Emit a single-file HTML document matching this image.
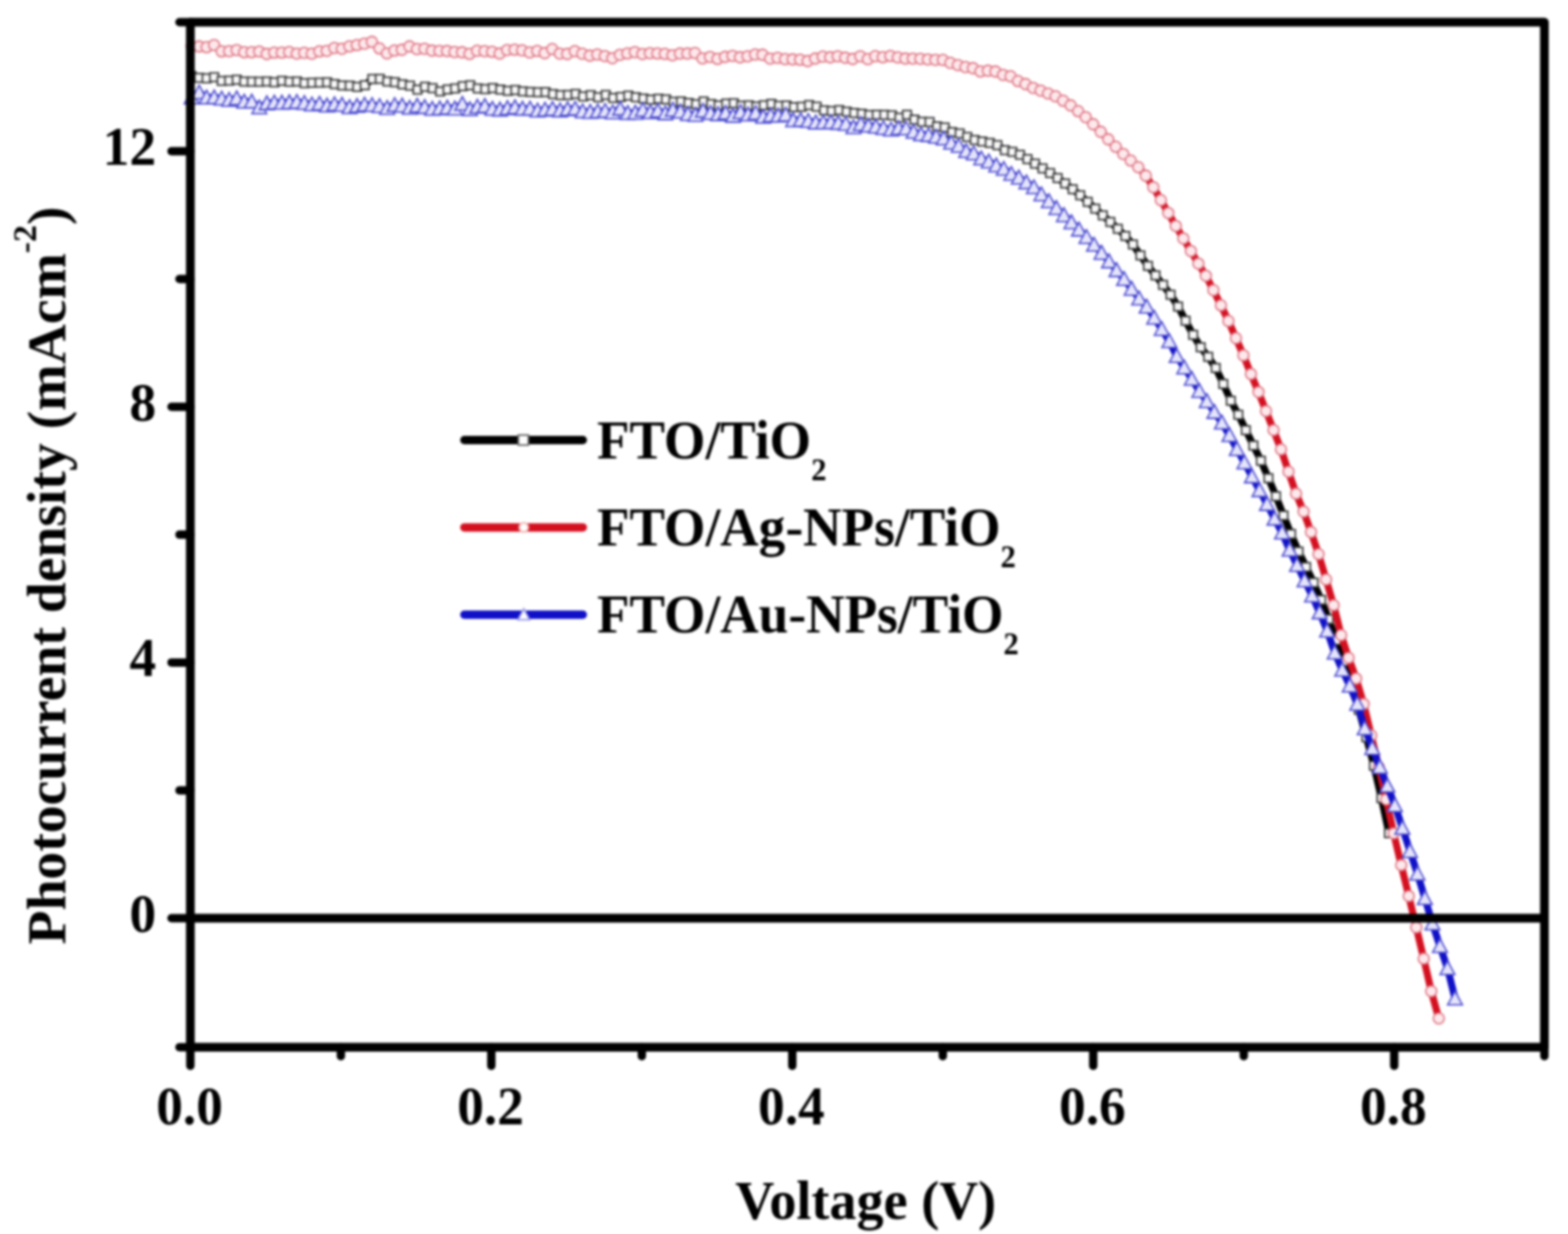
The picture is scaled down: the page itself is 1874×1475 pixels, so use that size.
<!DOCTYPE html>
<html><head><meta charset="utf-8"><title>Photocurrent density vs Voltage</title><style>html,body{margin:0;padding:0;background:#fff;overflow:hidden;}svg{display:block;}</style></head><body>
<svg width="1874" height="1475" viewBox="0 0 1874 1475" style="filter:blur(1.6px)">
<rect width="1874" height="1475" fill="#fff"/>
<path d="M229,90.9 L238,93 L247,93.6 L256,92.3 L265,96.7 L274,96.4 L283,95.3 L292,97.5 L301,97.6 L310,97.7 L319,97.4 L328,98.4 L337,96.6 L346,97.7 L355,97.4 L364,99.4 L373,98.9 L382,98.7 L391,98.4 L400,100.5 L409,102.2 L418,102.4 L427,103.8 L436,101.8 L445,94.4 L454,94.3 L463,97.4 L472,98.3 L481,100.8 L490,102.4 L499,107.2 L508,103.7 L517,105.4 L526,109.3 L535,106.9 L544,105.7 L553,103 L562,101.9 L571,105.7 L580,106.5 L589,105.3 L598,107.1 L607,108.6 L616,107.6 L625,109.3 L634,109.9 L643,110.3 L652,110.1 L661,112.5 L670,113.7 L679,113.5 L688,112.3 L697,115.3 L706,113.7 L715,116.3 L724,113.5 L733,117.1 L742,115.9 L751,114.3 L760,116.3 L769,117.8 L778,119.1 L787,118 L796,118.8 L805,121.7 L814,121.3 L823,123.1 L832,124.6 L841,121.3 L850,124.4 L859,126 L868,123.8 L877,123.4 L886,126.3 L895,125.9 L904,127.3 L913,125.8 L922,124.2 L931,126.5 L940,126.1 L949,128.1 L958,127.6 L967,125.6 L976,127.5 L985,131.9 L994,132.7 L1003,131.6 L1012,133.5 L1021,135.1 L1030,136 L1039,137.5 L1048,137.2 L1057,137.3 L1066,137.8 L1075,140.7 L1084,137.2 L1093,143 L1102,145.6 L1111,145.8 L1120,151.1 L1129,152.4 L1138,157.9 L1147,159.5 L1156,163.7 L1165,167.4 L1174,169.2 L1183,170.8 L1192,173.5 L1201,179.5 L1210,181.5 L1219,185 L1228,190.2 L1237,195.6 L1246,201.3 L1255,206.8 L1264,212.8 L1273,219.3 L1282,226.2 L1291,233.4 L1300,241.3 L1309,249.4 L1318,257.4 L1327,265.3 L1336,273.5 L1345,282.1 L1354,292.2 L1363,305.3 L1372,317.8 L1381,329.2 L1390,340.5 L1399,352.3 L1408,366.4 L1417,383.4 L1426,400.2 L1435,415.1 L1444,426.5 L1453,439.8 L1462,458.9 L1471,479 L1480,495.7 L1489,514.2 L1498,532.5 L1507,550.7 L1516,571.6 L1525,593.2 L1534,616.2 L1543,638.3 L1552,659.3 L1561,677.7 L1570,696.4 L1579,717.1 L1588,740.1 L1597,765.2 L1606,790.4 L1615,818.6 L1624,848.3 L1633,881.2 L1642,915.2 L1651,954 L1660,995.9" fill="none" stroke="#000000" stroke-width="8.5" stroke-linejoin="round" stroke-linecap="round"/>
<g><rect x="223.9" y="85.8" width="10.2" height="10.2" fill="#f8f8f8" stroke="#383838" stroke-width="1.9"/><rect x="232.9" y="87.9" width="10.2" height="10.2" fill="#f8f8f8" stroke="#383838" stroke-width="1.9"/><rect x="241.9" y="88.5" width="10.2" height="10.2" fill="#f8f8f8" stroke="#383838" stroke-width="1.9"/><rect x="250.9" y="87.2" width="10.2" height="10.2" fill="#f8f8f8" stroke="#383838" stroke-width="1.9"/><rect x="259.9" y="91.6" width="10.2" height="10.2" fill="#f8f8f8" stroke="#383838" stroke-width="1.9"/><rect x="268.9" y="91.3" width="10.2" height="10.2" fill="#f8f8f8" stroke="#383838" stroke-width="1.9"/><rect x="277.9" y="90.2" width="10.2" height="10.2" fill="#f8f8f8" stroke="#383838" stroke-width="1.9"/><rect x="286.9" y="92.4" width="10.2" height="10.2" fill="#f8f8f8" stroke="#383838" stroke-width="1.9"/><rect x="295.9" y="92.5" width="10.2" height="10.2" fill="#f8f8f8" stroke="#383838" stroke-width="1.9"/><rect x="304.9" y="92.6" width="10.2" height="10.2" fill="#f8f8f8" stroke="#383838" stroke-width="1.9"/><rect x="313.9" y="92.3" width="10.2" height="10.2" fill="#f8f8f8" stroke="#383838" stroke-width="1.9"/><rect x="322.9" y="93.3" width="10.2" height="10.2" fill="#f8f8f8" stroke="#383838" stroke-width="1.9"/><rect x="331.9" y="91.5" width="10.2" height="10.2" fill="#f8f8f8" stroke="#383838" stroke-width="1.9"/><rect x="340.9" y="92.6" width="10.2" height="10.2" fill="#f8f8f8" stroke="#383838" stroke-width="1.9"/><rect x="349.9" y="92.3" width="10.2" height="10.2" fill="#f8f8f8" stroke="#383838" stroke-width="1.9"/><rect x="358.9" y="94.3" width="10.2" height="10.2" fill="#f8f8f8" stroke="#383838" stroke-width="1.9"/><rect x="367.9" y="93.8" width="10.2" height="10.2" fill="#f8f8f8" stroke="#383838" stroke-width="1.9"/><rect x="376.9" y="93.6" width="10.2" height="10.2" fill="#f8f8f8" stroke="#383838" stroke-width="1.9"/><rect x="385.9" y="93.3" width="10.2" height="10.2" fill="#f8f8f8" stroke="#383838" stroke-width="1.9"/><rect x="394.9" y="95.4" width="10.2" height="10.2" fill="#f8f8f8" stroke="#383838" stroke-width="1.9"/><rect x="403.9" y="97.1" width="10.2" height="10.2" fill="#f8f8f8" stroke="#383838" stroke-width="1.9"/><rect x="412.9" y="97.3" width="10.2" height="10.2" fill="#f8f8f8" stroke="#383838" stroke-width="1.9"/><rect x="421.9" y="98.7" width="10.2" height="10.2" fill="#f8f8f8" stroke="#383838" stroke-width="1.9"/><rect x="430.9" y="96.7" width="10.2" height="10.2" fill="#f8f8f8" stroke="#383838" stroke-width="1.9"/><rect x="439.9" y="89.3" width="10.2" height="10.2" fill="#f8f8f8" stroke="#383838" stroke-width="1.9"/><rect x="448.9" y="89.2" width="10.2" height="10.2" fill="#f8f8f8" stroke="#383838" stroke-width="1.9"/><rect x="457.9" y="92.3" width="10.2" height="10.2" fill="#f8f8f8" stroke="#383838" stroke-width="1.9"/><rect x="466.9" y="93.2" width="10.2" height="10.2" fill="#f8f8f8" stroke="#383838" stroke-width="1.9"/><rect x="475.9" y="95.7" width="10.2" height="10.2" fill="#f8f8f8" stroke="#383838" stroke-width="1.9"/><rect x="484.9" y="97.3" width="10.2" height="10.2" fill="#f8f8f8" stroke="#383838" stroke-width="1.9"/><rect x="493.9" y="102.1" width="10.2" height="10.2" fill="#f8f8f8" stroke="#383838" stroke-width="1.9"/><rect x="502.9" y="98.6" width="10.2" height="10.2" fill="#f8f8f8" stroke="#383838" stroke-width="1.9"/><rect x="511.9" y="100.3" width="10.2" height="10.2" fill="#f8f8f8" stroke="#383838" stroke-width="1.9"/><rect x="520.9" y="104.2" width="10.2" height="10.2" fill="#f8f8f8" stroke="#383838" stroke-width="1.9"/><rect x="529.9" y="101.8" width="10.2" height="10.2" fill="#f8f8f8" stroke="#383838" stroke-width="1.9"/><rect x="538.9" y="100.6" width="10.2" height="10.2" fill="#f8f8f8" stroke="#383838" stroke-width="1.9"/><rect x="547.9" y="97.9" width="10.2" height="10.2" fill="#f8f8f8" stroke="#383838" stroke-width="1.9"/><rect x="556.9" y="96.8" width="10.2" height="10.2" fill="#f8f8f8" stroke="#383838" stroke-width="1.9"/><rect x="565.9" y="100.6" width="10.2" height="10.2" fill="#f8f8f8" stroke="#383838" stroke-width="1.9"/><rect x="574.9" y="101.4" width="10.2" height="10.2" fill="#f8f8f8" stroke="#383838" stroke-width="1.9"/><rect x="583.9" y="100.2" width="10.2" height="10.2" fill="#f8f8f8" stroke="#383838" stroke-width="1.9"/><rect x="592.9" y="102" width="10.2" height="10.2" fill="#f8f8f8" stroke="#383838" stroke-width="1.9"/><rect x="601.9" y="103.5" width="10.2" height="10.2" fill="#f8f8f8" stroke="#383838" stroke-width="1.9"/><rect x="610.9" y="102.5" width="10.2" height="10.2" fill="#f8f8f8" stroke="#383838" stroke-width="1.9"/><rect x="619.9" y="104.2" width="10.2" height="10.2" fill="#f8f8f8" stroke="#383838" stroke-width="1.9"/><rect x="628.9" y="104.8" width="10.2" height="10.2" fill="#f8f8f8" stroke="#383838" stroke-width="1.9"/><rect x="637.9" y="105.2" width="10.2" height="10.2" fill="#f8f8f8" stroke="#383838" stroke-width="1.9"/><rect x="646.9" y="105" width="10.2" height="10.2" fill="#f8f8f8" stroke="#383838" stroke-width="1.9"/><rect x="655.9" y="107.4" width="10.2" height="10.2" fill="#f8f8f8" stroke="#383838" stroke-width="1.9"/><rect x="664.9" y="108.6" width="10.2" height="10.2" fill="#f8f8f8" stroke="#383838" stroke-width="1.9"/><rect x="673.9" y="108.4" width="10.2" height="10.2" fill="#f8f8f8" stroke="#383838" stroke-width="1.9"/><rect x="682.9" y="107.2" width="10.2" height="10.2" fill="#f8f8f8" stroke="#383838" stroke-width="1.9"/><rect x="691.9" y="110.2" width="10.2" height="10.2" fill="#f8f8f8" stroke="#383838" stroke-width="1.9"/><rect x="700.9" y="108.6" width="10.2" height="10.2" fill="#f8f8f8" stroke="#383838" stroke-width="1.9"/><rect x="709.9" y="111.2" width="10.2" height="10.2" fill="#f8f8f8" stroke="#383838" stroke-width="1.9"/><rect x="718.9" y="108.4" width="10.2" height="10.2" fill="#f8f8f8" stroke="#383838" stroke-width="1.9"/><rect x="727.9" y="112" width="10.2" height="10.2" fill="#f8f8f8" stroke="#383838" stroke-width="1.9"/><rect x="736.9" y="110.8" width="10.2" height="10.2" fill="#f8f8f8" stroke="#383838" stroke-width="1.9"/><rect x="745.9" y="109.2" width="10.2" height="10.2" fill="#f8f8f8" stroke="#383838" stroke-width="1.9"/><rect x="754.9" y="111.2" width="10.2" height="10.2" fill="#f8f8f8" stroke="#383838" stroke-width="1.9"/><rect x="763.9" y="112.7" width="10.2" height="10.2" fill="#f8f8f8" stroke="#383838" stroke-width="1.9"/><rect x="772.9" y="114" width="10.2" height="10.2" fill="#f8f8f8" stroke="#383838" stroke-width="1.9"/><rect x="781.9" y="112.9" width="10.2" height="10.2" fill="#f8f8f8" stroke="#383838" stroke-width="1.9"/><rect x="790.9" y="113.7" width="10.2" height="10.2" fill="#f8f8f8" stroke="#383838" stroke-width="1.9"/><rect x="799.9" y="116.6" width="10.2" height="10.2" fill="#f8f8f8" stroke="#383838" stroke-width="1.9"/><rect x="808.9" y="116.2" width="10.2" height="10.2" fill="#f8f8f8" stroke="#383838" stroke-width="1.9"/><rect x="817.9" y="118" width="10.2" height="10.2" fill="#f8f8f8" stroke="#383838" stroke-width="1.9"/><rect x="826.9" y="119.5" width="10.2" height="10.2" fill="#f8f8f8" stroke="#383838" stroke-width="1.9"/><rect x="835.9" y="116.2" width="10.2" height="10.2" fill="#f8f8f8" stroke="#383838" stroke-width="1.9"/><rect x="844.9" y="119.3" width="10.2" height="10.2" fill="#f8f8f8" stroke="#383838" stroke-width="1.9"/><rect x="853.9" y="120.9" width="10.2" height="10.2" fill="#f8f8f8" stroke="#383838" stroke-width="1.9"/><rect x="862.9" y="118.7" width="10.2" height="10.2" fill="#f8f8f8" stroke="#383838" stroke-width="1.9"/><rect x="871.9" y="118.3" width="10.2" height="10.2" fill="#f8f8f8" stroke="#383838" stroke-width="1.9"/><rect x="880.9" y="121.2" width="10.2" height="10.2" fill="#f8f8f8" stroke="#383838" stroke-width="1.9"/><rect x="889.9" y="120.8" width="10.2" height="10.2" fill="#f8f8f8" stroke="#383838" stroke-width="1.9"/><rect x="898.9" y="122.2" width="10.2" height="10.2" fill="#f8f8f8" stroke="#383838" stroke-width="1.9"/><rect x="907.9" y="120.7" width="10.2" height="10.2" fill="#f8f8f8" stroke="#383838" stroke-width="1.9"/><rect x="916.9" y="119.1" width="10.2" height="10.2" fill="#f8f8f8" stroke="#383838" stroke-width="1.9"/><rect x="925.9" y="121.4" width="10.2" height="10.2" fill="#f8f8f8" stroke="#383838" stroke-width="1.9"/><rect x="934.9" y="121" width="10.2" height="10.2" fill="#f8f8f8" stroke="#383838" stroke-width="1.9"/><rect x="943.9" y="123" width="10.2" height="10.2" fill="#f8f8f8" stroke="#383838" stroke-width="1.9"/><rect x="952.9" y="122.5" width="10.2" height="10.2" fill="#f8f8f8" stroke="#383838" stroke-width="1.9"/><rect x="961.9" y="120.5" width="10.2" height="10.2" fill="#f8f8f8" stroke="#383838" stroke-width="1.9"/><rect x="970.9" y="122.4" width="10.2" height="10.2" fill="#f8f8f8" stroke="#383838" stroke-width="1.9"/><rect x="979.9" y="126.8" width="10.2" height="10.2" fill="#f8f8f8" stroke="#383838" stroke-width="1.9"/><rect x="988.9" y="127.6" width="10.2" height="10.2" fill="#f8f8f8" stroke="#383838" stroke-width="1.9"/><rect x="997.9" y="126.5" width="10.2" height="10.2" fill="#f8f8f8" stroke="#383838" stroke-width="1.9"/><rect x="1006.9" y="128.4" width="10.2" height="10.2" fill="#f8f8f8" stroke="#383838" stroke-width="1.9"/><rect x="1015.9" y="130" width="10.2" height="10.2" fill="#f8f8f8" stroke="#383838" stroke-width="1.9"/><rect x="1024.9" y="130.9" width="10.2" height="10.2" fill="#f8f8f8" stroke="#383838" stroke-width="1.9"/><rect x="1033.9" y="132.4" width="10.2" height="10.2" fill="#f8f8f8" stroke="#383838" stroke-width="1.9"/><rect x="1042.9" y="132.1" width="10.2" height="10.2" fill="#f8f8f8" stroke="#383838" stroke-width="1.9"/><rect x="1051.9" y="132.2" width="10.2" height="10.2" fill="#f8f8f8" stroke="#383838" stroke-width="1.9"/><rect x="1060.9" y="132.7" width="10.2" height="10.2" fill="#f8f8f8" stroke="#383838" stroke-width="1.9"/><rect x="1069.9" y="135.6" width="10.2" height="10.2" fill="#f8f8f8" stroke="#383838" stroke-width="1.9"/><rect x="1078.9" y="132.1" width="10.2" height="10.2" fill="#f8f8f8" stroke="#383838" stroke-width="1.9"/><rect x="1087.9" y="137.9" width="10.2" height="10.2" fill="#f8f8f8" stroke="#383838" stroke-width="1.9"/><rect x="1096.9" y="140.5" width="10.2" height="10.2" fill="#f8f8f8" stroke="#383838" stroke-width="1.9"/><rect x="1105.9" y="140.7" width="10.2" height="10.2" fill="#f8f8f8" stroke="#383838" stroke-width="1.9"/><rect x="1114.9" y="146" width="10.2" height="10.2" fill="#f8f8f8" stroke="#383838" stroke-width="1.9"/><rect x="1123.9" y="147.3" width="10.2" height="10.2" fill="#f8f8f8" stroke="#383838" stroke-width="1.9"/><rect x="1132.9" y="152.8" width="10.2" height="10.2" fill="#f8f8f8" stroke="#383838" stroke-width="1.9"/><rect x="1141.9" y="154.4" width="10.2" height="10.2" fill="#f8f8f8" stroke="#383838" stroke-width="1.9"/><rect x="1150.9" y="158.6" width="10.2" height="10.2" fill="#f8f8f8" stroke="#383838" stroke-width="1.9"/><rect x="1159.9" y="162.3" width="10.2" height="10.2" fill="#f8f8f8" stroke="#383838" stroke-width="1.9"/><rect x="1168.9" y="164.1" width="10.2" height="10.2" fill="#f8f8f8" stroke="#383838" stroke-width="1.9"/><rect x="1177.9" y="165.7" width="10.2" height="10.2" fill="#f8f8f8" stroke="#383838" stroke-width="1.9"/><rect x="1186.9" y="168.4" width="10.2" height="10.2" fill="#f8f8f8" stroke="#383838" stroke-width="1.9"/><rect x="1195.9" y="174.4" width="10.2" height="10.2" fill="#f8f8f8" stroke="#383838" stroke-width="1.9"/><rect x="1204.9" y="176.4" width="10.2" height="10.2" fill="#f8f8f8" stroke="#383838" stroke-width="1.9"/><rect x="1213.9" y="179.9" width="10.2" height="10.2" fill="#f8f8f8" stroke="#383838" stroke-width="1.9"/><rect x="1222.9" y="185.1" width="10.2" height="10.2" fill="#f8f8f8" stroke="#383838" stroke-width="1.9"/><rect x="1231.9" y="190.5" width="10.2" height="10.2" fill="#f8f8f8" stroke="#383838" stroke-width="1.9"/><rect x="1240.9" y="196.2" width="10.2" height="10.2" fill="#f8f8f8" stroke="#383838" stroke-width="1.9"/><rect x="1249.9" y="201.7" width="10.2" height="10.2" fill="#f8f8f8" stroke="#383838" stroke-width="1.9"/><rect x="1258.9" y="207.7" width="10.2" height="10.2" fill="#f8f8f8" stroke="#383838" stroke-width="1.9"/><rect x="1267.9" y="214.2" width="10.2" height="10.2" fill="#f8f8f8" stroke="#383838" stroke-width="1.9"/><rect x="1276.9" y="221.1" width="10.2" height="10.2" fill="#f8f8f8" stroke="#383838" stroke-width="1.9"/><rect x="1285.9" y="228.3" width="10.2" height="10.2" fill="#f8f8f8" stroke="#383838" stroke-width="1.9"/><rect x="1294.9" y="236.2" width="10.2" height="10.2" fill="#f8f8f8" stroke="#383838" stroke-width="1.9"/><rect x="1303.9" y="244.3" width="10.2" height="10.2" fill="#f8f8f8" stroke="#383838" stroke-width="1.9"/><rect x="1312.9" y="252.3" width="10.2" height="10.2" fill="#f8f8f8" stroke="#383838" stroke-width="1.9"/><rect x="1321.9" y="260.2" width="10.2" height="10.2" fill="#f8f8f8" stroke="#383838" stroke-width="1.9"/><rect x="1330.9" y="268.4" width="10.2" height="10.2" fill="#f8f8f8" stroke="#383838" stroke-width="1.9"/><rect x="1339.9" y="277" width="10.2" height="10.2" fill="#f8f8f8" stroke="#383838" stroke-width="1.9"/><rect x="1348.9" y="287.1" width="10.2" height="10.2" fill="#f8f8f8" stroke="#383838" stroke-width="1.9"/><rect x="1357.9" y="300.2" width="10.2" height="10.2" fill="#f8f8f8" stroke="#383838" stroke-width="1.9"/><rect x="1366.9" y="312.7" width="10.2" height="10.2" fill="#f8f8f8" stroke="#383838" stroke-width="1.9"/><rect x="1375.9" y="324.1" width="10.2" height="10.2" fill="#f8f8f8" stroke="#383838" stroke-width="1.9"/><rect x="1384.9" y="335.4" width="10.2" height="10.2" fill="#f8f8f8" stroke="#383838" stroke-width="1.9"/><rect x="1393.9" y="347.2" width="10.2" height="10.2" fill="#f8f8f8" stroke="#383838" stroke-width="1.9"/><rect x="1402.9" y="361.3" width="10.2" height="10.2" fill="#f8f8f8" stroke="#383838" stroke-width="1.9"/><rect x="1411.9" y="378.3" width="10.2" height="10.2" fill="#f8f8f8" stroke="#383838" stroke-width="1.9"/><rect x="1420.9" y="395.1" width="10.2" height="10.2" fill="#f8f8f8" stroke="#383838" stroke-width="1.9"/><rect x="1429.9" y="410" width="10.2" height="10.2" fill="#f8f8f8" stroke="#383838" stroke-width="1.9"/><rect x="1438.9" y="421.4" width="10.2" height="10.2" fill="#f8f8f8" stroke="#383838" stroke-width="1.9"/><rect x="1447.9" y="434.7" width="10.2" height="10.2" fill="#f8f8f8" stroke="#383838" stroke-width="1.9"/><rect x="1456.9" y="453.8" width="10.2" height="10.2" fill="#f8f8f8" stroke="#383838" stroke-width="1.9"/><rect x="1465.9" y="473.9" width="10.2" height="10.2" fill="#f8f8f8" stroke="#383838" stroke-width="1.9"/><rect x="1474.9" y="490.6" width="10.2" height="10.2" fill="#f8f8f8" stroke="#383838" stroke-width="1.9"/><rect x="1483.9" y="509.1" width="10.2" height="10.2" fill="#f8f8f8" stroke="#383838" stroke-width="1.9"/><rect x="1492.9" y="527.4" width="10.2" height="10.2" fill="#f8f8f8" stroke="#383838" stroke-width="1.9"/><rect x="1501.9" y="545.6" width="10.2" height="10.2" fill="#f8f8f8" stroke="#383838" stroke-width="1.9"/><rect x="1510.9" y="566.5" width="10.2" height="10.2" fill="#f8f8f8" stroke="#383838" stroke-width="1.9"/><rect x="1519.9" y="588.1" width="10.2" height="10.2" fill="#f8f8f8" stroke="#383838" stroke-width="1.9"/><rect x="1528.9" y="611.1" width="10.2" height="10.2" fill="#f8f8f8" stroke="#383838" stroke-width="1.9"/><rect x="1537.9" y="633.2" width="10.2" height="10.2" fill="#f8f8f8" stroke="#383838" stroke-width="1.9"/><rect x="1546.9" y="654.2" width="10.2" height="10.2" fill="#f8f8f8" stroke="#383838" stroke-width="1.9"/><rect x="1555.9" y="672.6" width="10.2" height="10.2" fill="#f8f8f8" stroke="#383838" stroke-width="1.9"/><rect x="1564.9" y="691.3" width="10.2" height="10.2" fill="#f8f8f8" stroke="#383838" stroke-width="1.9"/><rect x="1573.9" y="712" width="10.2" height="10.2" fill="#f8f8f8" stroke="#383838" stroke-width="1.9"/><rect x="1582.9" y="735" width="10.2" height="10.2" fill="#f8f8f8" stroke="#383838" stroke-width="1.9"/><rect x="1591.9" y="760.1" width="10.2" height="10.2" fill="#f8f8f8" stroke="#383838" stroke-width="1.9"/><rect x="1600.9" y="785.3" width="10.2" height="10.2" fill="#f8f8f8" stroke="#383838" stroke-width="1.9"/><rect x="1609.9" y="813.5" width="10.2" height="10.2" fill="#f8f8f8" stroke="#383838" stroke-width="1.9"/><rect x="1618.9" y="843.2" width="10.2" height="10.2" fill="#f8f8f8" stroke="#383838" stroke-width="1.9"/><rect x="1627.9" y="876.1" width="10.2" height="10.2" fill="#f8f8f8" stroke="#383838" stroke-width="1.9"/><rect x="1636.9" y="910.1" width="10.2" height="10.2" fill="#f8f8f8" stroke="#383838" stroke-width="1.9"/><rect x="1645.9" y="948.9" width="10.2" height="10.2" fill="#f8f8f8" stroke="#383838" stroke-width="1.9"/><rect x="1654.9" y="990.8" width="10.2" height="10.2" fill="#f8f8f8" stroke="#383838" stroke-width="1.9"/></g>
<path d="M229,55.6 L238,55.5 L247,56.4 L255.9,53.8 L264.9,61.4 L273.9,61.2 L282.9,59.8 L291.9,62.4 L300.8,62.4 L309.8,61.6 L318.8,64.5 L327.8,62.9 L336.8,62.9 L345.7,62.2 L354.7,64.1 L363.7,63.2 L372.7,64.2 L381.7,61.4 L390.6,60.8 L399.6,57.3 L408.6,58.3 L417.6,55.4 L426.5,53.9 L435.5,52.2 L444.5,50 L453.5,57.9 L462.5,63.8 L471.4,60.4 L480.4,59.5 L489.4,55.5 L498.4,58.7 L507.4,58.3 L516.3,60.5 L525.3,60.8 L534.3,61 L543.3,62.2 L552.3,62.5 L561.2,64.4 L570.2,60.7 L579.2,61.2 L588.2,61.9 L597.2,64 L606.1,59.8 L615.1,59.4 L624.1,60.2 L633.1,62.7 L642.1,60.9 L651,63.5 L660,58.7 L669,64.1 L678,64.5 L687,61.2 L695.9,64.2 L704.9,66.5 L713.9,65.2 L722.9,67.1 L731.9,69.6 L740.8,65.6 L749.8,63.9 L758.8,62.3 L767.8,64.6 L776.8,63.6 L785.7,63.9 L794.7,64.4 L803.7,66.1 L812.7,64 L821.6,64 L830.6,63.3 L839.6,69.8 L848.6,68.1 L857.6,70.4 L866.5,68 L875.5,66.8 L884.5,68.5 L893.5,67.3 L902.5,65.2 L911.4,65.5 L920.4,70.1 L929.4,69.2 L938.4,70.7 L947.4,71 L956.3,71.4 L965.3,73 L974.3,70 L983.3,67.7 L992.3,68.5 L1001.2,67.3 L1010.2,69 L1019.2,70.5 L1028.2,67.3 L1037.2,70.7 L1046.1,67.2 L1055.1,68.4 L1064.1,66.9 L1073.1,68.7 L1082.1,70 L1091,70.1 L1100,70.3 L1109,71.1 L1118,71.6 L1127,71.7 L1135.9,75.2 L1144.9,77.8 L1153.9,80.2 L1162.9,81.5 L1171.8,85.4 L1180.8,84.5 L1189.8,85.5 L1198.8,89.6 L1207.8,91.2 L1216.7,96.9 L1225.7,100.5 L1234.7,105.1 L1243.7,108.3 L1252.7,111.8 L1261.6,115.2 L1270.6,120.4 L1279.6,126 L1288.6,132.9 L1297.6,140.1 L1306.5,148.5 L1315.5,157.5 L1324.5,166.5 L1333.5,175.4 L1342.5,184.1 L1351.4,191.9 L1360.4,199.8 L1369.4,210 L1378.4,223.8 L1387.4,239.2 L1396.3,254.6 L1405.3,270.1 L1414.3,285.1 L1423.3,300.1 L1432.3,315.1 L1441.2,329.6 L1450.2,346.8 L1459.2,364.9 L1468.2,383.7 L1477.2,404.2 L1486.1,424.7 L1495.1,447.1 L1504.1,468.6 L1513.1,491.3 L1522.1,514.1 L1531,537.2 L1540,563.8 L1549,590 L1558,611.5 L1566.9,636 L1575.9,662.4 L1584.9,692.7 L1593.9,723.4 L1602.9,759.2 L1611.8,786.3 L1620.8,811.1 L1629.8,841.5 L1638.8,879 L1647.8,916.9 L1656.7,955.6 L1665.7,996.1 L1674.7,1034 L1683.7,1071.1 L1692.7,1108.5 L1701.6,1145.9 L1710.6,1184.8 L1719.6,1217.3" fill="none" stroke="#d41020" stroke-width="8.5" stroke-linejoin="round" stroke-linecap="round"/>
<g><circle cx="229" cy="55.6" r="6.5" fill="#fde8eb" stroke="#de7684" stroke-width="1.8"/><circle cx="238" cy="55.5" r="6.5" fill="#fde8eb" stroke="#de7684" stroke-width="1.8"/><circle cx="247" cy="56.4" r="6.5" fill="#fde8eb" stroke="#de7684" stroke-width="1.8"/><circle cx="255.9" cy="53.8" r="6.5" fill="#fde8eb" stroke="#de7684" stroke-width="1.8"/><circle cx="264.9" cy="61.4" r="6.5" fill="#fde8eb" stroke="#de7684" stroke-width="1.8"/><circle cx="273.9" cy="61.2" r="6.5" fill="#fde8eb" stroke="#de7684" stroke-width="1.8"/><circle cx="282.9" cy="59.8" r="6.5" fill="#fde8eb" stroke="#de7684" stroke-width="1.8"/><circle cx="291.9" cy="62.4" r="6.5" fill="#fde8eb" stroke="#de7684" stroke-width="1.8"/><circle cx="300.8" cy="62.4" r="6.5" fill="#fde8eb" stroke="#de7684" stroke-width="1.8"/><circle cx="309.8" cy="61.6" r="6.5" fill="#fde8eb" stroke="#de7684" stroke-width="1.8"/><circle cx="318.8" cy="64.5" r="6.5" fill="#fde8eb" stroke="#de7684" stroke-width="1.8"/><circle cx="327.8" cy="62.9" r="6.5" fill="#fde8eb" stroke="#de7684" stroke-width="1.8"/><circle cx="336.8" cy="62.9" r="6.5" fill="#fde8eb" stroke="#de7684" stroke-width="1.8"/><circle cx="345.7" cy="62.2" r="6.5" fill="#fde8eb" stroke="#de7684" stroke-width="1.8"/><circle cx="354.7" cy="64.1" r="6.5" fill="#fde8eb" stroke="#de7684" stroke-width="1.8"/><circle cx="363.7" cy="63.2" r="6.5" fill="#fde8eb" stroke="#de7684" stroke-width="1.8"/><circle cx="372.7" cy="64.2" r="6.5" fill="#fde8eb" stroke="#de7684" stroke-width="1.8"/><circle cx="381.7" cy="61.4" r="6.5" fill="#fde8eb" stroke="#de7684" stroke-width="1.8"/><circle cx="390.6" cy="60.8" r="6.5" fill="#fde8eb" stroke="#de7684" stroke-width="1.8"/><circle cx="399.6" cy="57.3" r="6.5" fill="#fde8eb" stroke="#de7684" stroke-width="1.8"/><circle cx="408.6" cy="58.3" r="6.5" fill="#fde8eb" stroke="#de7684" stroke-width="1.8"/><circle cx="417.6" cy="55.4" r="6.5" fill="#fde8eb" stroke="#de7684" stroke-width="1.8"/><circle cx="426.5" cy="53.9" r="6.5" fill="#fde8eb" stroke="#de7684" stroke-width="1.8"/><circle cx="435.5" cy="52.2" r="6.5" fill="#fde8eb" stroke="#de7684" stroke-width="1.8"/><circle cx="444.5" cy="50" r="6.5" fill="#fde8eb" stroke="#de7684" stroke-width="1.8"/><circle cx="453.5" cy="57.9" r="6.5" fill="#fde8eb" stroke="#de7684" stroke-width="1.8"/><circle cx="462.5" cy="63.8" r="6.5" fill="#fde8eb" stroke="#de7684" stroke-width="1.8"/><circle cx="471.4" cy="60.4" r="6.5" fill="#fde8eb" stroke="#de7684" stroke-width="1.8"/><circle cx="480.4" cy="59.5" r="6.5" fill="#fde8eb" stroke="#de7684" stroke-width="1.8"/><circle cx="489.4" cy="55.5" r="6.5" fill="#fde8eb" stroke="#de7684" stroke-width="1.8"/><circle cx="498.4" cy="58.7" r="6.5" fill="#fde8eb" stroke="#de7684" stroke-width="1.8"/><circle cx="507.4" cy="58.3" r="6.5" fill="#fde8eb" stroke="#de7684" stroke-width="1.8"/><circle cx="516.3" cy="60.5" r="6.5" fill="#fde8eb" stroke="#de7684" stroke-width="1.8"/><circle cx="525.3" cy="60.8" r="6.5" fill="#fde8eb" stroke="#de7684" stroke-width="1.8"/><circle cx="534.3" cy="61" r="6.5" fill="#fde8eb" stroke="#de7684" stroke-width="1.8"/><circle cx="543.3" cy="62.2" r="6.5" fill="#fde8eb" stroke="#de7684" stroke-width="1.8"/><circle cx="552.3" cy="62.5" r="6.5" fill="#fde8eb" stroke="#de7684" stroke-width="1.8"/><circle cx="561.2" cy="64.4" r="6.5" fill="#fde8eb" stroke="#de7684" stroke-width="1.8"/><circle cx="570.2" cy="60.7" r="6.5" fill="#fde8eb" stroke="#de7684" stroke-width="1.8"/><circle cx="579.2" cy="61.2" r="6.5" fill="#fde8eb" stroke="#de7684" stroke-width="1.8"/><circle cx="588.2" cy="61.9" r="6.5" fill="#fde8eb" stroke="#de7684" stroke-width="1.8"/><circle cx="597.2" cy="64" r="6.5" fill="#fde8eb" stroke="#de7684" stroke-width="1.8"/><circle cx="606.1" cy="59.8" r="6.5" fill="#fde8eb" stroke="#de7684" stroke-width="1.8"/><circle cx="615.1" cy="59.4" r="6.5" fill="#fde8eb" stroke="#de7684" stroke-width="1.8"/><circle cx="624.1" cy="60.2" r="6.5" fill="#fde8eb" stroke="#de7684" stroke-width="1.8"/><circle cx="633.1" cy="62.7" r="6.5" fill="#fde8eb" stroke="#de7684" stroke-width="1.8"/><circle cx="642.1" cy="60.9" r="6.5" fill="#fde8eb" stroke="#de7684" stroke-width="1.8"/><circle cx="651" cy="63.5" r="6.5" fill="#fde8eb" stroke="#de7684" stroke-width="1.8"/><circle cx="660" cy="58.7" r="6.5" fill="#fde8eb" stroke="#de7684" stroke-width="1.8"/><circle cx="669" cy="64.1" r="6.5" fill="#fde8eb" stroke="#de7684" stroke-width="1.8"/><circle cx="678" cy="64.5" r="6.5" fill="#fde8eb" stroke="#de7684" stroke-width="1.8"/><circle cx="687" cy="61.2" r="6.5" fill="#fde8eb" stroke="#de7684" stroke-width="1.8"/><circle cx="695.9" cy="64.2" r="6.5" fill="#fde8eb" stroke="#de7684" stroke-width="1.8"/><circle cx="704.9" cy="66.5" r="6.5" fill="#fde8eb" stroke="#de7684" stroke-width="1.8"/><circle cx="713.9" cy="65.2" r="6.5" fill="#fde8eb" stroke="#de7684" stroke-width="1.8"/><circle cx="722.9" cy="67.1" r="6.5" fill="#fde8eb" stroke="#de7684" stroke-width="1.8"/><circle cx="731.9" cy="69.6" r="6.5" fill="#fde8eb" stroke="#de7684" stroke-width="1.8"/><circle cx="740.8" cy="65.6" r="6.5" fill="#fde8eb" stroke="#de7684" stroke-width="1.8"/><circle cx="749.8" cy="63.9" r="6.5" fill="#fde8eb" stroke="#de7684" stroke-width="1.8"/><circle cx="758.8" cy="62.3" r="6.5" fill="#fde8eb" stroke="#de7684" stroke-width="1.8"/><circle cx="767.8" cy="64.6" r="6.5" fill="#fde8eb" stroke="#de7684" stroke-width="1.8"/><circle cx="776.8" cy="63.6" r="6.5" fill="#fde8eb" stroke="#de7684" stroke-width="1.8"/><circle cx="785.7" cy="63.9" r="6.5" fill="#fde8eb" stroke="#de7684" stroke-width="1.8"/><circle cx="794.7" cy="64.4" r="6.5" fill="#fde8eb" stroke="#de7684" stroke-width="1.8"/><circle cx="803.7" cy="66.1" r="6.5" fill="#fde8eb" stroke="#de7684" stroke-width="1.8"/><circle cx="812.7" cy="64" r="6.5" fill="#fde8eb" stroke="#de7684" stroke-width="1.8"/><circle cx="821.6" cy="64" r="6.5" fill="#fde8eb" stroke="#de7684" stroke-width="1.8"/><circle cx="830.6" cy="63.3" r="6.5" fill="#fde8eb" stroke="#de7684" stroke-width="1.8"/><circle cx="839.6" cy="69.8" r="6.5" fill="#fde8eb" stroke="#de7684" stroke-width="1.8"/><circle cx="848.6" cy="68.1" r="6.5" fill="#fde8eb" stroke="#de7684" stroke-width="1.8"/><circle cx="857.6" cy="70.4" r="6.5" fill="#fde8eb" stroke="#de7684" stroke-width="1.8"/><circle cx="866.5" cy="68" r="6.5" fill="#fde8eb" stroke="#de7684" stroke-width="1.8"/><circle cx="875.5" cy="66.8" r="6.5" fill="#fde8eb" stroke="#de7684" stroke-width="1.8"/><circle cx="884.5" cy="68.5" r="6.5" fill="#fde8eb" stroke="#de7684" stroke-width="1.8"/><circle cx="893.5" cy="67.3" r="6.5" fill="#fde8eb" stroke="#de7684" stroke-width="1.8"/><circle cx="902.5" cy="65.2" r="6.5" fill="#fde8eb" stroke="#de7684" stroke-width="1.8"/><circle cx="911.4" cy="65.5" r="6.5" fill="#fde8eb" stroke="#de7684" stroke-width="1.8"/><circle cx="920.4" cy="70.1" r="6.5" fill="#fde8eb" stroke="#de7684" stroke-width="1.8"/><circle cx="929.4" cy="69.2" r="6.5" fill="#fde8eb" stroke="#de7684" stroke-width="1.8"/><circle cx="938.4" cy="70.7" r="6.5" fill="#fde8eb" stroke="#de7684" stroke-width="1.8"/><circle cx="947.4" cy="71" r="6.5" fill="#fde8eb" stroke="#de7684" stroke-width="1.8"/><circle cx="956.3" cy="71.4" r="6.5" fill="#fde8eb" stroke="#de7684" stroke-width="1.8"/><circle cx="965.3" cy="73" r="6.5" fill="#fde8eb" stroke="#de7684" stroke-width="1.8"/><circle cx="974.3" cy="70" r="6.5" fill="#fde8eb" stroke="#de7684" stroke-width="1.8"/><circle cx="983.3" cy="67.7" r="6.5" fill="#fde8eb" stroke="#de7684" stroke-width="1.8"/><circle cx="992.3" cy="68.5" r="6.5" fill="#fde8eb" stroke="#de7684" stroke-width="1.8"/><circle cx="1001.2" cy="67.3" r="6.5" fill="#fde8eb" stroke="#de7684" stroke-width="1.8"/><circle cx="1010.2" cy="69" r="6.5" fill="#fde8eb" stroke="#de7684" stroke-width="1.8"/><circle cx="1019.2" cy="70.5" r="6.5" fill="#fde8eb" stroke="#de7684" stroke-width="1.8"/><circle cx="1028.2" cy="67.3" r="6.5" fill="#fde8eb" stroke="#de7684" stroke-width="1.8"/><circle cx="1037.2" cy="70.7" r="6.5" fill="#fde8eb" stroke="#de7684" stroke-width="1.8"/><circle cx="1046.1" cy="67.2" r="6.5" fill="#fde8eb" stroke="#de7684" stroke-width="1.8"/><circle cx="1055.1" cy="68.4" r="6.5" fill="#fde8eb" stroke="#de7684" stroke-width="1.8"/><circle cx="1064.1" cy="66.9" r="6.5" fill="#fde8eb" stroke="#de7684" stroke-width="1.8"/><circle cx="1073.1" cy="68.7" r="6.5" fill="#fde8eb" stroke="#de7684" stroke-width="1.8"/><circle cx="1082.1" cy="70" r="6.5" fill="#fde8eb" stroke="#de7684" stroke-width="1.8"/><circle cx="1091" cy="70.1" r="6.5" fill="#fde8eb" stroke="#de7684" stroke-width="1.8"/><circle cx="1100" cy="70.3" r="6.5" fill="#fde8eb" stroke="#de7684" stroke-width="1.8"/><circle cx="1109" cy="71.1" r="6.5" fill="#fde8eb" stroke="#de7684" stroke-width="1.8"/><circle cx="1118" cy="71.6" r="6.5" fill="#fde8eb" stroke="#de7684" stroke-width="1.8"/><circle cx="1127" cy="71.7" r="6.5" fill="#fde8eb" stroke="#de7684" stroke-width="1.8"/><circle cx="1135.9" cy="75.2" r="6.5" fill="#fde8eb" stroke="#de7684" stroke-width="1.8"/><circle cx="1144.9" cy="77.8" r="6.5" fill="#fde8eb" stroke="#de7684" stroke-width="1.8"/><circle cx="1153.9" cy="80.2" r="6.5" fill="#fde8eb" stroke="#de7684" stroke-width="1.8"/><circle cx="1162.9" cy="81.5" r="6.5" fill="#fde8eb" stroke="#de7684" stroke-width="1.8"/><circle cx="1171.8" cy="85.4" r="6.5" fill="#fde8eb" stroke="#de7684" stroke-width="1.8"/><circle cx="1180.8" cy="84.5" r="6.5" fill="#fde8eb" stroke="#de7684" stroke-width="1.8"/><circle cx="1189.8" cy="85.5" r="6.5" fill="#fde8eb" stroke="#de7684" stroke-width="1.8"/><circle cx="1198.8" cy="89.6" r="6.5" fill="#fde8eb" stroke="#de7684" stroke-width="1.8"/><circle cx="1207.8" cy="91.2" r="6.5" fill="#fde8eb" stroke="#de7684" stroke-width="1.8"/><circle cx="1216.7" cy="96.9" r="6.5" fill="#fde8eb" stroke="#de7684" stroke-width="1.8"/><circle cx="1225.7" cy="100.5" r="6.5" fill="#fde8eb" stroke="#de7684" stroke-width="1.8"/><circle cx="1234.7" cy="105.1" r="6.5" fill="#fde8eb" stroke="#de7684" stroke-width="1.8"/><circle cx="1243.7" cy="108.3" r="6.5" fill="#fde8eb" stroke="#de7684" stroke-width="1.8"/><circle cx="1252.7" cy="111.8" r="6.5" fill="#fde8eb" stroke="#de7684" stroke-width="1.8"/><circle cx="1261.6" cy="115.2" r="6.5" fill="#fde8eb" stroke="#de7684" stroke-width="1.8"/><circle cx="1270.6" cy="120.4" r="6.5" fill="#fde8eb" stroke="#de7684" stroke-width="1.8"/><circle cx="1279.6" cy="126" r="6.5" fill="#fde8eb" stroke="#de7684" stroke-width="1.8"/><circle cx="1288.6" cy="132.9" r="6.5" fill="#fde8eb" stroke="#de7684" stroke-width="1.8"/><circle cx="1297.6" cy="140.1" r="6.5" fill="#fde8eb" stroke="#de7684" stroke-width="1.8"/><circle cx="1306.5" cy="148.5" r="6.5" fill="#fde8eb" stroke="#de7684" stroke-width="1.8"/><circle cx="1315.5" cy="157.5" r="6.5" fill="#fde8eb" stroke="#de7684" stroke-width="1.8"/><circle cx="1324.5" cy="166.5" r="6.5" fill="#fde8eb" stroke="#de7684" stroke-width="1.8"/><circle cx="1333.5" cy="175.4" r="6.5" fill="#fde8eb" stroke="#de7684" stroke-width="1.8"/><circle cx="1342.5" cy="184.1" r="6.5" fill="#fde8eb" stroke="#de7684" stroke-width="1.8"/><circle cx="1351.4" cy="191.9" r="6.5" fill="#fde8eb" stroke="#de7684" stroke-width="1.8"/><circle cx="1360.4" cy="199.8" r="6.5" fill="#fde8eb" stroke="#de7684" stroke-width="1.8"/><circle cx="1369.4" cy="210" r="6.5" fill="#fde8eb" stroke="#de7684" stroke-width="1.8"/><circle cx="1378.4" cy="223.8" r="6.5" fill="#fde8eb" stroke="#de7684" stroke-width="1.8"/><circle cx="1387.4" cy="239.2" r="6.5" fill="#fde8eb" stroke="#de7684" stroke-width="1.8"/><circle cx="1396.3" cy="254.6" r="6.5" fill="#fde8eb" stroke="#de7684" stroke-width="1.8"/><circle cx="1405.3" cy="270.1" r="6.5" fill="#fde8eb" stroke="#de7684" stroke-width="1.8"/><circle cx="1414.3" cy="285.1" r="6.5" fill="#fde8eb" stroke="#de7684" stroke-width="1.8"/><circle cx="1423.3" cy="300.1" r="6.5" fill="#fde8eb" stroke="#de7684" stroke-width="1.8"/><circle cx="1432.3" cy="315.1" r="6.5" fill="#fde8eb" stroke="#de7684" stroke-width="1.8"/><circle cx="1441.2" cy="329.6" r="6.5" fill="#fde8eb" stroke="#de7684" stroke-width="1.8"/><circle cx="1450.2" cy="346.8" r="6.5" fill="#fde8eb" stroke="#de7684" stroke-width="1.8"/><circle cx="1459.2" cy="364.9" r="6.5" fill="#fde8eb" stroke="#de7684" stroke-width="1.8"/><circle cx="1468.2" cy="383.7" r="6.5" fill="#fde8eb" stroke="#de7684" stroke-width="1.8"/><circle cx="1477.2" cy="404.2" r="6.5" fill="#fde8eb" stroke="#de7684" stroke-width="1.8"/><circle cx="1486.1" cy="424.7" r="6.5" fill="#fde8eb" stroke="#de7684" stroke-width="1.8"/><circle cx="1495.1" cy="447.1" r="6.5" fill="#fde8eb" stroke="#de7684" stroke-width="1.8"/><circle cx="1504.1" cy="468.6" r="6.5" fill="#fde8eb" stroke="#de7684" stroke-width="1.8"/><circle cx="1513.1" cy="491.3" r="6.5" fill="#fde8eb" stroke="#de7684" stroke-width="1.8"/><circle cx="1522.1" cy="514.1" r="6.5" fill="#fde8eb" stroke="#de7684" stroke-width="1.8"/><circle cx="1531" cy="537.2" r="6.5" fill="#fde8eb" stroke="#de7684" stroke-width="1.8"/><circle cx="1540" cy="563.8" r="6.5" fill="#fde8eb" stroke="#de7684" stroke-width="1.8"/><circle cx="1549" cy="590" r="6.5" fill="#fde8eb" stroke="#de7684" stroke-width="1.8"/><circle cx="1558" cy="611.5" r="6.5" fill="#fde8eb" stroke="#de7684" stroke-width="1.8"/><circle cx="1566.9" cy="636" r="6.5" fill="#fde8eb" stroke="#de7684" stroke-width="1.8"/><circle cx="1575.9" cy="662.4" r="6.5" fill="#fde8eb" stroke="#de7684" stroke-width="1.8"/><circle cx="1584.9" cy="692.7" r="6.5" fill="#fde8eb" stroke="#de7684" stroke-width="1.8"/><circle cx="1593.9" cy="723.4" r="6.5" fill="#fde8eb" stroke="#de7684" stroke-width="1.8"/><circle cx="1602.9" cy="759.2" r="6.5" fill="#fde8eb" stroke="#de7684" stroke-width="1.8"/><circle cx="1611.8" cy="786.3" r="6.5" fill="#fde8eb" stroke="#de7684" stroke-width="1.8"/><circle cx="1620.8" cy="811.1" r="6.5" fill="#fde8eb" stroke="#de7684" stroke-width="1.8"/><circle cx="1629.8" cy="841.5" r="6.5" fill="#fde8eb" stroke="#de7684" stroke-width="1.8"/><circle cx="1638.8" cy="879" r="6.5" fill="#fde8eb" stroke="#de7684" stroke-width="1.8"/><circle cx="1647.8" cy="916.9" r="6.5" fill="#fde8eb" stroke="#de7684" stroke-width="1.8"/><circle cx="1656.7" cy="955.6" r="6.5" fill="#fde8eb" stroke="#de7684" stroke-width="1.8"/><circle cx="1665.7" cy="996.1" r="6.5" fill="#fde8eb" stroke="#de7684" stroke-width="1.8"/><circle cx="1674.7" cy="1034" r="6.5" fill="#fde8eb" stroke="#de7684" stroke-width="1.8"/><circle cx="1683.7" cy="1071.1" r="6.5" fill="#fde8eb" stroke="#de7684" stroke-width="1.8"/><circle cx="1692.7" cy="1108.5" r="6.5" fill="#fde8eb" stroke="#de7684" stroke-width="1.8"/><circle cx="1701.6" cy="1145.9" r="6.5" fill="#fde8eb" stroke="#de7684" stroke-width="1.8"/><circle cx="1710.6" cy="1184.8" r="6.5" fill="#fde8eb" stroke="#de7684" stroke-width="1.8"/><circle cx="1719.6" cy="1217.3" r="6.5" fill="#fde8eb" stroke="#de7684" stroke-width="1.8"/></g>
<path d="M229,116.6 L238,110.6 L247,116.7 L256,116.5 L265,117.9 L273.9,119.4 L282.9,117.6 L291.9,121.6 L300.9,121.5 L309.9,128.4 L318.9,123.5 L327.9,122.7 L336.9,122.8 L345.8,122.3 L354.8,121.9 L363.8,123.2 L372.8,124.9 L381.8,124.1 L390.8,126.3 L399.8,124.7 L408.8,125.3 L417.8,128.1 L426.7,126.8 L435.7,125.2 L444.7,125.7 L453.7,126.9 L462.7,129.1 L471.7,125.7 L480.7,126.3 L489.7,128.9 L498.6,126.5 L507.6,128 L516.6,130.1 L525.6,129.6 L534.6,128.8 L543.6,129.8 L552.6,124.3 L561.6,130.6 L570.5,127.7 L579.5,126.8 L588.5,130.1 L597.5,131 L606.5,129.3 L615.5,128.3 L624.5,130 L633.5,129.9 L642.5,132.2 L651.4,131.2 L660.4,130.3 L669.4,132 L678.4,130.5 L687.4,130.1 L696.4,133.2 L705.4,133.8 L714.4,133.2 L723.3,132.7 L732.3,134.4 L741.3,130 L750.3,135.1 L759.3,134.8 L768.3,131.4 L777.3,134.1 L786.3,132.5 L795.2,135.5 L804.2,131.3 L813.2,133.4 L822.2,136.3 L831.2,137.4 L840.2,132.4 L849.2,135.2 L858.2,136.5 L867.2,135 L876.1,138.5 L885.1,134.1 L894.1,136.9 L903.1,135.2 L912.1,139.7 L921.1,138.1 L930.1,138.2 L939.1,137.2 L948,143.8 L957,143.5 L966,144.7 L975,146.5 L984,146.4 L993,146.1 L1002,147 L1011,148.1 L1020,152.2 L1028.9,148.3 L1037.9,150.3 L1046.9,151.3 L1055.9,153.2 L1064.9,154.9 L1073.9,153.2 L1082.9,153.7 L1091.9,157.6 L1100.8,160.8 L1109.8,161.5 L1118.8,163.4 L1127.8,165.7 L1136.8,170.7 L1145.8,174.4 L1154.8,180.8 L1163.8,183.4 L1172.8,189.4 L1181.7,193.1 L1190.7,197.8 L1199.7,201.9 L1208.7,207.9 L1217.7,212.3 L1226.7,218.1 L1235.7,223.9 L1244.7,232.4 L1253.6,240.6 L1262.6,248.8 L1271.6,257.3 L1280.6,265.8 L1289.6,274.5 L1298.6,283.4 L1307.6,292.7 L1316.6,302.3 L1325.5,312.5 L1334.5,323 L1343.5,333.7 L1352.5,345.3 L1361.5,356.9 L1370.5,366.7 L1379.5,379.9 L1388.5,393.4 L1397.5,407.9 L1406.4,425.7 L1415.4,439.4 L1424.4,453 L1433.4,467.4 L1442.4,479.6 L1451.4,492.5 L1460.4,505.2 L1469.4,520.3 L1478.3,536.8 L1487.3,552.9 L1496.3,569.5 L1505.3,586 L1514.3,602.5 L1523.3,620 L1532.3,636.7 L1541.3,657.3 L1550.2,675.5 L1559.2,693.8 L1568.2,711.9 L1577.2,732 L1586.2,754 L1595.2,780.1 L1604.2,800.7 L1613.2,819.6 L1622.2,841.3 L1631.1,870.7 L1640.1,894.3 L1649.1,916.8 L1658.1,939.3 L1667.1,962.6 L1676.1,989.7 L1685.1,1017.3 L1694.1,1044.4 L1703,1073.7 L1712,1103.9 L1721,1131 L1730,1157.3 L1739,1193.6" fill="none" stroke="#1010c8" stroke-width="8.5" stroke-linejoin="round" stroke-linecap="round"/>
<g><path d="M229,107.8L237.8,124.1L220.2,124.1Z" fill="#e4e4fb" stroke="#4c4cd0" stroke-width="1.8" stroke-linejoin="miter"/><path d="M238,101.8L246.8,118.1L229.2,118.1Z" fill="#e4e4fb" stroke="#4c4cd0" stroke-width="1.8" stroke-linejoin="miter"/><path d="M247,107.9L255.8,124.2L238.2,124.2Z" fill="#e4e4fb" stroke="#4c4cd0" stroke-width="1.8" stroke-linejoin="miter"/><path d="M256,107.7L264.8,124L247.2,124Z" fill="#e4e4fb" stroke="#4c4cd0" stroke-width="1.8" stroke-linejoin="miter"/><path d="M265,109.1L273.8,125.4L256.2,125.4Z" fill="#e4e4fb" stroke="#4c4cd0" stroke-width="1.8" stroke-linejoin="miter"/><path d="M273.9,110.6L282.7,126.9L265.1,126.9Z" fill="#e4e4fb" stroke="#4c4cd0" stroke-width="1.8" stroke-linejoin="miter"/><path d="M282.9,108.8L291.7,125.1L274.1,125.1Z" fill="#e4e4fb" stroke="#4c4cd0" stroke-width="1.8" stroke-linejoin="miter"/><path d="M291.9,112.8L300.7,129.1L283.1,129.1Z" fill="#e4e4fb" stroke="#4c4cd0" stroke-width="1.8" stroke-linejoin="miter"/><path d="M300.9,112.7L309.7,129L292.1,129Z" fill="#e4e4fb" stroke="#4c4cd0" stroke-width="1.8" stroke-linejoin="miter"/><path d="M309.9,119.6L318.7,135.9L301.1,135.9Z" fill="#e4e4fb" stroke="#4c4cd0" stroke-width="1.8" stroke-linejoin="miter"/><path d="M318.9,114.7L327.7,131L310.1,131Z" fill="#e4e4fb" stroke="#4c4cd0" stroke-width="1.8" stroke-linejoin="miter"/><path d="M327.9,113.9L336.7,130.1L319.1,130.1Z" fill="#e4e4fb" stroke="#4c4cd0" stroke-width="1.8" stroke-linejoin="miter"/><path d="M336.9,114L345.7,130.3L328.1,130.3Z" fill="#e4e4fb" stroke="#4c4cd0" stroke-width="1.8" stroke-linejoin="miter"/><path d="M345.8,113.5L354.6,129.8L337,129.8Z" fill="#e4e4fb" stroke="#4c4cd0" stroke-width="1.8" stroke-linejoin="miter"/><path d="M354.8,113.1L363.6,129.4L346,129.4Z" fill="#e4e4fb" stroke="#4c4cd0" stroke-width="1.8" stroke-linejoin="miter"/><path d="M363.8,114.4L372.6,130.7L355,130.7Z" fill="#e4e4fb" stroke="#4c4cd0" stroke-width="1.8" stroke-linejoin="miter"/><path d="M372.8,116.1L381.6,132.4L364,132.4Z" fill="#e4e4fb" stroke="#4c4cd0" stroke-width="1.8" stroke-linejoin="miter"/><path d="M381.8,115.3L390.6,131.5L373,131.5Z" fill="#e4e4fb" stroke="#4c4cd0" stroke-width="1.8" stroke-linejoin="miter"/><path d="M390.8,117.5L399.6,133.7L382,133.7Z" fill="#e4e4fb" stroke="#4c4cd0" stroke-width="1.8" stroke-linejoin="miter"/><path d="M399.8,115.9L408.6,132.2L391,132.2Z" fill="#e4e4fb" stroke="#4c4cd0" stroke-width="1.8" stroke-linejoin="miter"/><path d="M408.8,116.5L417.6,132.8L400,132.8Z" fill="#e4e4fb" stroke="#4c4cd0" stroke-width="1.8" stroke-linejoin="miter"/><path d="M417.8,119.3L426.6,135.6L408.9,135.6Z" fill="#e4e4fb" stroke="#4c4cd0" stroke-width="1.8" stroke-linejoin="miter"/><path d="M426.7,118L435.5,134.2L417.9,134.2Z" fill="#e4e4fb" stroke="#4c4cd0" stroke-width="1.8" stroke-linejoin="miter"/><path d="M435.7,116.4L444.5,132.7L426.9,132.7Z" fill="#e4e4fb" stroke="#4c4cd0" stroke-width="1.8" stroke-linejoin="miter"/><path d="M444.7,116.9L453.5,133.2L435.9,133.2Z" fill="#e4e4fb" stroke="#4c4cd0" stroke-width="1.8" stroke-linejoin="miter"/><path d="M453.7,118.1L462.5,134.3L444.9,134.3Z" fill="#e4e4fb" stroke="#4c4cd0" stroke-width="1.8" stroke-linejoin="miter"/><path d="M462.7,120.3L471.5,136.6L453.9,136.6Z" fill="#e4e4fb" stroke="#4c4cd0" stroke-width="1.8" stroke-linejoin="miter"/><path d="M471.7,116.9L480.5,133.2L462.9,133.2Z" fill="#e4e4fb" stroke="#4c4cd0" stroke-width="1.8" stroke-linejoin="miter"/><path d="M480.7,117.5L489.5,133.8L471.9,133.8Z" fill="#e4e4fb" stroke="#4c4cd0" stroke-width="1.8" stroke-linejoin="miter"/><path d="M489.7,120.1L498.5,136.4L480.9,136.4Z" fill="#e4e4fb" stroke="#4c4cd0" stroke-width="1.8" stroke-linejoin="miter"/><path d="M498.6,117.7L507.4,134L489.8,134Z" fill="#e4e4fb" stroke="#4c4cd0" stroke-width="1.8" stroke-linejoin="miter"/><path d="M507.6,119.2L516.4,135.5L498.8,135.5Z" fill="#e4e4fb" stroke="#4c4cd0" stroke-width="1.8" stroke-linejoin="miter"/><path d="M516.6,121.3L525.4,137.6L507.8,137.6Z" fill="#e4e4fb" stroke="#4c4cd0" stroke-width="1.8" stroke-linejoin="miter"/><path d="M525.6,120.8L534.4,137.1L516.8,137.1Z" fill="#e4e4fb" stroke="#4c4cd0" stroke-width="1.8" stroke-linejoin="miter"/><path d="M534.6,120L543.4,136.3L525.8,136.3Z" fill="#e4e4fb" stroke="#4c4cd0" stroke-width="1.8" stroke-linejoin="miter"/><path d="M543.6,121L552.4,137.3L534.8,137.3Z" fill="#e4e4fb" stroke="#4c4cd0" stroke-width="1.8" stroke-linejoin="miter"/><path d="M552.6,115.5L561.4,131.7L543.8,131.7Z" fill="#e4e4fb" stroke="#4c4cd0" stroke-width="1.8" stroke-linejoin="miter"/><path d="M561.6,121.8L570.4,138.1L552.8,138.1Z" fill="#e4e4fb" stroke="#4c4cd0" stroke-width="1.8" stroke-linejoin="miter"/><path d="M570.5,118.9L579.3,135.2L561.7,135.2Z" fill="#e4e4fb" stroke="#4c4cd0" stroke-width="1.8" stroke-linejoin="miter"/><path d="M579.5,118L588.3,134.3L570.7,134.3Z" fill="#e4e4fb" stroke="#4c4cd0" stroke-width="1.8" stroke-linejoin="miter"/><path d="M588.5,121.3L597.3,137.6L579.7,137.6Z" fill="#e4e4fb" stroke="#4c4cd0" stroke-width="1.8" stroke-linejoin="miter"/><path d="M597.5,122.2L606.3,138.5L588.7,138.5Z" fill="#e4e4fb" stroke="#4c4cd0" stroke-width="1.8" stroke-linejoin="miter"/><path d="M606.5,120.5L615.3,136.8L597.7,136.8Z" fill="#e4e4fb" stroke="#4c4cd0" stroke-width="1.8" stroke-linejoin="miter"/><path d="M615.5,119.5L624.3,135.8L606.7,135.8Z" fill="#e4e4fb" stroke="#4c4cd0" stroke-width="1.8" stroke-linejoin="miter"/><path d="M624.5,121.2L633.3,137.5L615.7,137.5Z" fill="#e4e4fb" stroke="#4c4cd0" stroke-width="1.8" stroke-linejoin="miter"/><path d="M633.5,121.1L642.3,137.4L624.7,137.4Z" fill="#e4e4fb" stroke="#4c4cd0" stroke-width="1.8" stroke-linejoin="miter"/><path d="M642.5,123.4L651.3,139.7L633.7,139.7Z" fill="#e4e4fb" stroke="#4c4cd0" stroke-width="1.8" stroke-linejoin="miter"/><path d="M651.4,122.4L660.2,138.7L642.6,138.7Z" fill="#e4e4fb" stroke="#4c4cd0" stroke-width="1.8" stroke-linejoin="miter"/><path d="M660.4,121.5L669.2,137.8L651.6,137.8Z" fill="#e4e4fb" stroke="#4c4cd0" stroke-width="1.8" stroke-linejoin="miter"/><path d="M669.4,123.2L678.2,139.5L660.6,139.5Z" fill="#e4e4fb" stroke="#4c4cd0" stroke-width="1.8" stroke-linejoin="miter"/><path d="M678.4,121.7L687.2,138L669.6,138Z" fill="#e4e4fb" stroke="#4c4cd0" stroke-width="1.8" stroke-linejoin="miter"/><path d="M687.4,121.3L696.2,137.5L678.6,137.5Z" fill="#e4e4fb" stroke="#4c4cd0" stroke-width="1.8" stroke-linejoin="miter"/><path d="M696.4,124.4L705.2,140.6L687.6,140.6Z" fill="#e4e4fb" stroke="#4c4cd0" stroke-width="1.8" stroke-linejoin="miter"/><path d="M705.4,125L714.2,141.3L696.6,141.3Z" fill="#e4e4fb" stroke="#4c4cd0" stroke-width="1.8" stroke-linejoin="miter"/><path d="M714.4,124.4L723.2,140.7L705.6,140.7Z" fill="#e4e4fb" stroke="#4c4cd0" stroke-width="1.8" stroke-linejoin="miter"/><path d="M723.3,123.9L732.1,140.2L714.5,140.2Z" fill="#e4e4fb" stroke="#4c4cd0" stroke-width="1.8" stroke-linejoin="miter"/><path d="M732.3,125.6L741.1,141.8L723.5,141.8Z" fill="#e4e4fb" stroke="#4c4cd0" stroke-width="1.8" stroke-linejoin="miter"/><path d="M741.3,121.2L750.1,137.5L732.5,137.5Z" fill="#e4e4fb" stroke="#4c4cd0" stroke-width="1.8" stroke-linejoin="miter"/><path d="M750.3,126.3L759.1,142.6L741.5,142.6Z" fill="#e4e4fb" stroke="#4c4cd0" stroke-width="1.8" stroke-linejoin="miter"/><path d="M759.3,126L768.1,142.3L750.5,142.3Z" fill="#e4e4fb" stroke="#4c4cd0" stroke-width="1.8" stroke-linejoin="miter"/><path d="M768.3,122.6L777.1,138.9L759.5,138.9Z" fill="#e4e4fb" stroke="#4c4cd0" stroke-width="1.8" stroke-linejoin="miter"/><path d="M777.3,125.3L786.1,141.6L768.5,141.6Z" fill="#e4e4fb" stroke="#4c4cd0" stroke-width="1.8" stroke-linejoin="miter"/><path d="M786.3,123.7L795.1,140L777.5,140Z" fill="#e4e4fb" stroke="#4c4cd0" stroke-width="1.8" stroke-linejoin="miter"/><path d="M795.2,126.7L804,143L786.5,143Z" fill="#e4e4fb" stroke="#4c4cd0" stroke-width="1.8" stroke-linejoin="miter"/><path d="M804.2,122.5L813,138.8L795.4,138.8Z" fill="#e4e4fb" stroke="#4c4cd0" stroke-width="1.8" stroke-linejoin="miter"/><path d="M813.2,124.6L822,140.9L804.4,140.9Z" fill="#e4e4fb" stroke="#4c4cd0" stroke-width="1.8" stroke-linejoin="miter"/><path d="M822.2,127.5L831,143.8L813.4,143.8Z" fill="#e4e4fb" stroke="#4c4cd0" stroke-width="1.8" stroke-linejoin="miter"/><path d="M831.2,128.6L840,144.9L822.4,144.9Z" fill="#e4e4fb" stroke="#4c4cd0" stroke-width="1.8" stroke-linejoin="miter"/><path d="M840.2,123.6L849,139.9L831.4,139.9Z" fill="#e4e4fb" stroke="#4c4cd0" stroke-width="1.8" stroke-linejoin="miter"/><path d="M849.2,126.4L858,142.7L840.4,142.7Z" fill="#e4e4fb" stroke="#4c4cd0" stroke-width="1.8" stroke-linejoin="miter"/><path d="M858.2,127.7L867,144L849.4,144Z" fill="#e4e4fb" stroke="#4c4cd0" stroke-width="1.8" stroke-linejoin="miter"/><path d="M867.2,126.2L876,142.5L858.4,142.5Z" fill="#e4e4fb" stroke="#4c4cd0" stroke-width="1.8" stroke-linejoin="miter"/><path d="M876.1,129.7L884.9,146L867.3,146Z" fill="#e4e4fb" stroke="#4c4cd0" stroke-width="1.8" stroke-linejoin="miter"/><path d="M885.1,125.3L893.9,141.6L876.3,141.6Z" fill="#e4e4fb" stroke="#4c4cd0" stroke-width="1.8" stroke-linejoin="miter"/><path d="M894.1,128.1L902.9,144.3L885.3,144.3Z" fill="#e4e4fb" stroke="#4c4cd0" stroke-width="1.8" stroke-linejoin="miter"/><path d="M903.1,126.4L911.9,142.7L894.3,142.7Z" fill="#e4e4fb" stroke="#4c4cd0" stroke-width="1.8" stroke-linejoin="miter"/><path d="M912.1,130.9L920.9,147.2L903.3,147.2Z" fill="#e4e4fb" stroke="#4c4cd0" stroke-width="1.8" stroke-linejoin="miter"/><path d="M921.1,129.3L929.9,145.5L912.3,145.5Z" fill="#e4e4fb" stroke="#4c4cd0" stroke-width="1.8" stroke-linejoin="miter"/><path d="M930.1,129.4L938.9,145.7L921.3,145.7Z" fill="#e4e4fb" stroke="#4c4cd0" stroke-width="1.8" stroke-linejoin="miter"/><path d="M939.1,128.4L947.9,144.6L930.3,144.6Z" fill="#e4e4fb" stroke="#4c4cd0" stroke-width="1.8" stroke-linejoin="miter"/><path d="M948,135L956.8,151.3L939.2,151.3Z" fill="#e4e4fb" stroke="#4c4cd0" stroke-width="1.8" stroke-linejoin="miter"/><path d="M957,134.7L965.8,151L948.2,151Z" fill="#e4e4fb" stroke="#4c4cd0" stroke-width="1.8" stroke-linejoin="miter"/><path d="M966,135.9L974.8,152.2L957.2,152.2Z" fill="#e4e4fb" stroke="#4c4cd0" stroke-width="1.8" stroke-linejoin="miter"/><path d="M975,137.7L983.8,154L966.2,154Z" fill="#e4e4fb" stroke="#4c4cd0" stroke-width="1.8" stroke-linejoin="miter"/><path d="M984,137.6L992.8,153.9L975.2,153.9Z" fill="#e4e4fb" stroke="#4c4cd0" stroke-width="1.8" stroke-linejoin="miter"/><path d="M993,137.3L1001.8,153.6L984.2,153.6Z" fill="#e4e4fb" stroke="#4c4cd0" stroke-width="1.8" stroke-linejoin="miter"/><path d="M1002,138.2L1010.8,154.5L993.2,154.5Z" fill="#e4e4fb" stroke="#4c4cd0" stroke-width="1.8" stroke-linejoin="miter"/><path d="M1011,139.3L1019.8,155.6L1002.2,155.6Z" fill="#e4e4fb" stroke="#4c4cd0" stroke-width="1.8" stroke-linejoin="miter"/><path d="M1020,143.4L1028.8,159.7L1011.2,159.7Z" fill="#e4e4fb" stroke="#4c4cd0" stroke-width="1.8" stroke-linejoin="miter"/><path d="M1028.9,139.5L1037.7,155.8L1020.1,155.8Z" fill="#e4e4fb" stroke="#4c4cd0" stroke-width="1.8" stroke-linejoin="miter"/><path d="M1037.9,141.5L1046.7,157.7L1029.1,157.7Z" fill="#e4e4fb" stroke="#4c4cd0" stroke-width="1.8" stroke-linejoin="miter"/><path d="M1046.9,142.5L1055.7,158.8L1038.1,158.8Z" fill="#e4e4fb" stroke="#4c4cd0" stroke-width="1.8" stroke-linejoin="miter"/><path d="M1055.9,144.4L1064.7,160.6L1047.1,160.6Z" fill="#e4e4fb" stroke="#4c4cd0" stroke-width="1.8" stroke-linejoin="miter"/><path d="M1064.9,146.1L1073.7,162.4L1056.1,162.4Z" fill="#e4e4fb" stroke="#4c4cd0" stroke-width="1.8" stroke-linejoin="miter"/><path d="M1073.9,144.4L1082.7,160.7L1065.1,160.7Z" fill="#e4e4fb" stroke="#4c4cd0" stroke-width="1.8" stroke-linejoin="miter"/><path d="M1082.9,144.9L1091.7,161.1L1074.1,161.1Z" fill="#e4e4fb" stroke="#4c4cd0" stroke-width="1.8" stroke-linejoin="miter"/><path d="M1091.9,148.8L1100.7,165.1L1083.1,165.1Z" fill="#e4e4fb" stroke="#4c4cd0" stroke-width="1.8" stroke-linejoin="miter"/><path d="M1100.8,152L1109.6,168.2L1092,168.2Z" fill="#e4e4fb" stroke="#4c4cd0" stroke-width="1.8" stroke-linejoin="miter"/><path d="M1109.8,152.7L1118.6,169L1101,169Z" fill="#e4e4fb" stroke="#4c4cd0" stroke-width="1.8" stroke-linejoin="miter"/><path d="M1118.8,154.6L1127.6,170.8L1110,170.8Z" fill="#e4e4fb" stroke="#4c4cd0" stroke-width="1.8" stroke-linejoin="miter"/><path d="M1127.8,156.9L1136.6,173.1L1119,173.1Z" fill="#e4e4fb" stroke="#4c4cd0" stroke-width="1.8" stroke-linejoin="miter"/><path d="M1136.8,161.9L1145.6,178.2L1128,178.2Z" fill="#e4e4fb" stroke="#4c4cd0" stroke-width="1.8" stroke-linejoin="miter"/><path d="M1145.8,165.6L1154.6,181.9L1137,181.9Z" fill="#e4e4fb" stroke="#4c4cd0" stroke-width="1.8" stroke-linejoin="miter"/><path d="M1154.8,172L1163.6,188.2L1146,188.2Z" fill="#e4e4fb" stroke="#4c4cd0" stroke-width="1.8" stroke-linejoin="miter"/><path d="M1163.8,174.6L1172.6,190.9L1155,190.9Z" fill="#e4e4fb" stroke="#4c4cd0" stroke-width="1.8" stroke-linejoin="miter"/><path d="M1172.8,180.6L1181.5,196.8L1164,196.8Z" fill="#e4e4fb" stroke="#4c4cd0" stroke-width="1.8" stroke-linejoin="miter"/><path d="M1181.7,184.3L1190.5,200.6L1172.9,200.6Z" fill="#e4e4fb" stroke="#4c4cd0" stroke-width="1.8" stroke-linejoin="miter"/><path d="M1190.7,189L1199.5,205.3L1181.9,205.3Z" fill="#e4e4fb" stroke="#4c4cd0" stroke-width="1.8" stroke-linejoin="miter"/><path d="M1199.7,193.1L1208.5,209.3L1190.9,209.3Z" fill="#e4e4fb" stroke="#4c4cd0" stroke-width="1.8" stroke-linejoin="miter"/><path d="M1208.7,199.1L1217.5,215.4L1199.9,215.4Z" fill="#e4e4fb" stroke="#4c4cd0" stroke-width="1.8" stroke-linejoin="miter"/><path d="M1217.7,203.5L1226.5,219.8L1208.9,219.8Z" fill="#e4e4fb" stroke="#4c4cd0" stroke-width="1.8" stroke-linejoin="miter"/><path d="M1226.7,209.3L1235.5,225.5L1217.9,225.5Z" fill="#e4e4fb" stroke="#4c4cd0" stroke-width="1.8" stroke-linejoin="miter"/><path d="M1235.7,215.1L1244.5,231.4L1226.9,231.4Z" fill="#e4e4fb" stroke="#4c4cd0" stroke-width="1.8" stroke-linejoin="miter"/><path d="M1244.7,223.6L1253.5,239.9L1235.9,239.9Z" fill="#e4e4fb" stroke="#4c4cd0" stroke-width="1.8" stroke-linejoin="miter"/><path d="M1253.6,231.8L1262.4,248.1L1244.8,248.1Z" fill="#e4e4fb" stroke="#4c4cd0" stroke-width="1.8" stroke-linejoin="miter"/><path d="M1262.6,240L1271.4,256.3L1253.8,256.3Z" fill="#e4e4fb" stroke="#4c4cd0" stroke-width="1.8" stroke-linejoin="miter"/><path d="M1271.6,248.5L1280.4,264.8L1262.8,264.8Z" fill="#e4e4fb" stroke="#4c4cd0" stroke-width="1.8" stroke-linejoin="miter"/><path d="M1280.6,257L1289.4,273.3L1271.8,273.3Z" fill="#e4e4fb" stroke="#4c4cd0" stroke-width="1.8" stroke-linejoin="miter"/><path d="M1289.6,265.7L1298.4,282L1280.8,282Z" fill="#e4e4fb" stroke="#4c4cd0" stroke-width="1.8" stroke-linejoin="miter"/><path d="M1298.6,274.6L1307.4,290.8L1289.8,290.8Z" fill="#e4e4fb" stroke="#4c4cd0" stroke-width="1.8" stroke-linejoin="miter"/><path d="M1307.6,283.9L1316.4,300.2L1298.8,300.2Z" fill="#e4e4fb" stroke="#4c4cd0" stroke-width="1.8" stroke-linejoin="miter"/><path d="M1316.6,293.5L1325.4,309.8L1307.8,309.8Z" fill="#e4e4fb" stroke="#4c4cd0" stroke-width="1.8" stroke-linejoin="miter"/><path d="M1325.5,303.7L1334.3,320L1316.7,320Z" fill="#e4e4fb" stroke="#4c4cd0" stroke-width="1.8" stroke-linejoin="miter"/><path d="M1334.5,314.2L1343.3,330.5L1325.7,330.5Z" fill="#e4e4fb" stroke="#4c4cd0" stroke-width="1.8" stroke-linejoin="miter"/><path d="M1343.5,324.9L1352.3,341.2L1334.7,341.2Z" fill="#e4e4fb" stroke="#4c4cd0" stroke-width="1.8" stroke-linejoin="miter"/><path d="M1352.5,336.5L1361.3,352.8L1343.7,352.8Z" fill="#e4e4fb" stroke="#4c4cd0" stroke-width="1.8" stroke-linejoin="miter"/><path d="M1361.5,348.1L1370.3,364.4L1352.7,364.4Z" fill="#e4e4fb" stroke="#4c4cd0" stroke-width="1.8" stroke-linejoin="miter"/><path d="M1370.5,357.9L1379.3,374.2L1361.7,374.2Z" fill="#e4e4fb" stroke="#4c4cd0" stroke-width="1.8" stroke-linejoin="miter"/><path d="M1379.5,371.1L1388.3,387.4L1370.7,387.4Z" fill="#e4e4fb" stroke="#4c4cd0" stroke-width="1.8" stroke-linejoin="miter"/><path d="M1388.5,384.6L1397.3,400.8L1379.7,400.8Z" fill="#e4e4fb" stroke="#4c4cd0" stroke-width="1.8" stroke-linejoin="miter"/><path d="M1397.5,399.1L1406.3,415.3L1388.7,415.3Z" fill="#e4e4fb" stroke="#4c4cd0" stroke-width="1.8" stroke-linejoin="miter"/><path d="M1406.4,416.9L1415.2,433.2L1397.6,433.2Z" fill="#e4e4fb" stroke="#4c4cd0" stroke-width="1.8" stroke-linejoin="miter"/><path d="M1415.4,430.6L1424.2,446.8L1406.6,446.8Z" fill="#e4e4fb" stroke="#4c4cd0" stroke-width="1.8" stroke-linejoin="miter"/><path d="M1424.4,444.2L1433.2,460.4L1415.6,460.4Z" fill="#e4e4fb" stroke="#4c4cd0" stroke-width="1.8" stroke-linejoin="miter"/><path d="M1433.4,458.6L1442.2,474.9L1424.6,474.9Z" fill="#e4e4fb" stroke="#4c4cd0" stroke-width="1.8" stroke-linejoin="miter"/><path d="M1442.4,470.8L1451.2,487.1L1433.6,487.1Z" fill="#e4e4fb" stroke="#4c4cd0" stroke-width="1.8" stroke-linejoin="miter"/><path d="M1451.4,483.7L1460.2,500L1442.6,500Z" fill="#e4e4fb" stroke="#4c4cd0" stroke-width="1.8" stroke-linejoin="miter"/><path d="M1460.4,496.4L1469.2,512.7L1451.6,512.7Z" fill="#e4e4fb" stroke="#4c4cd0" stroke-width="1.8" stroke-linejoin="miter"/><path d="M1469.4,511.5L1478.2,527.7L1460.6,527.7Z" fill="#e4e4fb" stroke="#4c4cd0" stroke-width="1.8" stroke-linejoin="miter"/><path d="M1478.3,528L1487.1,544.3L1469.5,544.3Z" fill="#e4e4fb" stroke="#4c4cd0" stroke-width="1.8" stroke-linejoin="miter"/><path d="M1487.3,544.1L1496.1,560.3L1478.5,560.3Z" fill="#e4e4fb" stroke="#4c4cd0" stroke-width="1.8" stroke-linejoin="miter"/><path d="M1496.3,560.7L1505.1,577L1487.5,577Z" fill="#e4e4fb" stroke="#4c4cd0" stroke-width="1.8" stroke-linejoin="miter"/><path d="M1505.3,577.2L1514.1,593.5L1496.5,593.5Z" fill="#e4e4fb" stroke="#4c4cd0" stroke-width="1.8" stroke-linejoin="miter"/><path d="M1514.3,593.7L1523.1,610L1505.5,610Z" fill="#e4e4fb" stroke="#4c4cd0" stroke-width="1.8" stroke-linejoin="miter"/><path d="M1523.3,611.2L1532.1,627.5L1514.5,627.5Z" fill="#e4e4fb" stroke="#4c4cd0" stroke-width="1.8" stroke-linejoin="miter"/><path d="M1532.3,627.9L1541.1,644.1L1523.5,644.1Z" fill="#e4e4fb" stroke="#4c4cd0" stroke-width="1.8" stroke-linejoin="miter"/><path d="M1541.3,648.5L1550.1,664.7L1532.5,664.7Z" fill="#e4e4fb" stroke="#4c4cd0" stroke-width="1.8" stroke-linejoin="miter"/><path d="M1550.2,666.7L1559,682.9L1541.4,682.9Z" fill="#e4e4fb" stroke="#4c4cd0" stroke-width="1.8" stroke-linejoin="miter"/><path d="M1559.2,685L1568,701.3L1550.4,701.3Z" fill="#e4e4fb" stroke="#4c4cd0" stroke-width="1.8" stroke-linejoin="miter"/><path d="M1568.2,703.1L1577,719.4L1559.4,719.4Z" fill="#e4e4fb" stroke="#4c4cd0" stroke-width="1.8" stroke-linejoin="miter"/><path d="M1577.2,723.2L1586,739.5L1568.4,739.5Z" fill="#e4e4fb" stroke="#4c4cd0" stroke-width="1.8" stroke-linejoin="miter"/><path d="M1586.2,745.2L1595,761.4L1577.4,761.4Z" fill="#e4e4fb" stroke="#4c4cd0" stroke-width="1.8" stroke-linejoin="miter"/><path d="M1595.2,771.3L1604,787.6L1586.4,787.6Z" fill="#e4e4fb" stroke="#4c4cd0" stroke-width="1.8" stroke-linejoin="miter"/><path d="M1604.2,791.9L1613,808.1L1595.4,808.1Z" fill="#e4e4fb" stroke="#4c4cd0" stroke-width="1.8" stroke-linejoin="miter"/><path d="M1613.2,810.8L1622,827.1L1604.4,827.1Z" fill="#e4e4fb" stroke="#4c4cd0" stroke-width="1.8" stroke-linejoin="miter"/><path d="M1622.2,832.5L1631,848.8L1613.4,848.8Z" fill="#e4e4fb" stroke="#4c4cd0" stroke-width="1.8" stroke-linejoin="miter"/><path d="M1631.1,861.9L1639.9,878.1L1622.3,878.1Z" fill="#e4e4fb" stroke="#4c4cd0" stroke-width="1.8" stroke-linejoin="miter"/><path d="M1640.1,885.5L1648.9,901.8L1631.3,901.8Z" fill="#e4e4fb" stroke="#4c4cd0" stroke-width="1.8" stroke-linejoin="miter"/><path d="M1649.1,908L1657.9,924.3L1640.3,924.3Z" fill="#e4e4fb" stroke="#4c4cd0" stroke-width="1.8" stroke-linejoin="miter"/><path d="M1658.1,930.5L1666.9,946.7L1649.3,946.7Z" fill="#e4e4fb" stroke="#4c4cd0" stroke-width="1.8" stroke-linejoin="miter"/><path d="M1667.1,953.8L1675.9,970.1L1658.3,970.1Z" fill="#e4e4fb" stroke="#4c4cd0" stroke-width="1.8" stroke-linejoin="miter"/><path d="M1676.1,980.9L1684.9,997.2L1667.3,997.2Z" fill="#e4e4fb" stroke="#4c4cd0" stroke-width="1.8" stroke-linejoin="miter"/><path d="M1685.1,1008.5L1693.9,1024.8L1676.3,1024.8Z" fill="#e4e4fb" stroke="#4c4cd0" stroke-width="1.8" stroke-linejoin="miter"/><path d="M1694.1,1035.6L1702.9,1051.8L1685.3,1051.8Z" fill="#e4e4fb" stroke="#4c4cd0" stroke-width="1.8" stroke-linejoin="miter"/><path d="M1703,1064.9L1711.8,1081.2L1694.2,1081.2Z" fill="#e4e4fb" stroke="#4c4cd0" stroke-width="1.8" stroke-linejoin="miter"/><path d="M1712,1095.1L1720.8,1111.4L1703.2,1111.4Z" fill="#e4e4fb" stroke="#4c4cd0" stroke-width="1.8" stroke-linejoin="miter"/><path d="M1721,1122.2L1729.8,1138.4L1712.2,1138.4Z" fill="#e4e4fb" stroke="#4c4cd0" stroke-width="1.8" stroke-linejoin="miter"/><path d="M1730,1148.5L1738.8,1164.8L1721.2,1164.8Z" fill="#e4e4fb" stroke="#4c4cd0" stroke-width="1.8" stroke-linejoin="miter"/><path d="M1739,1184.8L1747.8,1201.1L1730.2,1201.1Z" fill="#e4e4fb" stroke="#4c4cd0" stroke-width="1.8" stroke-linejoin="miter"/></g>
<g stroke="#000" fill="none" stroke-linecap="round">
<path d="M227.5,26.5 H1845.8 V1251.8 H227.5 Z" stroke-width="10.4" stroke-linejoin="round" stroke-linecap="butt"/>
<path d="M227.5,1097.5 H1845.8" stroke-width="10.3" stroke-linecap="butt"/>
<path d="M227.5,1251.8 V1274" stroke-width="10"/>
<path d="M407.4,1251.8 V1262.5" stroke-width="10"/>
<path d="M587.2,1251.8 V1274" stroke-width="10"/>
<path d="M767.1,1251.8 V1262.5" stroke-width="10"/>
<path d="M946.9,1251.8 V1274" stroke-width="10"/>
<path d="M1126.8,1251.8 V1262.5" stroke-width="10"/>
<path d="M1306.6,1251.8 V1274" stroke-width="10"/>
<path d="M1486.5,1251.8 V1262.5" stroke-width="10"/>
<path d="M1666.3,1251.8 V1274" stroke-width="10"/>
<path d="M1845.8,1251.8 V1262.5" stroke-width="10"/>
<path d="M227.5,1251.8 H214.5" stroke-width="10"/>
<path d="M227.5,1097.5 H205" stroke-width="10"/>
<path d="M227.5,944.7 H214.5" stroke-width="10"/>
<path d="M227.5,791.9 H205" stroke-width="10"/>
<path d="M227.5,639.1 H214.5" stroke-width="10"/>
<path d="M227.5,486.3 H205" stroke-width="10"/>
<path d="M227.5,333.5 H214.5" stroke-width="10"/>
<path d="M227.5,180.7 H205" stroke-width="10"/>
<path d="M227.5,26.5 H214.5" stroke-width="10"/>
</g>
<g font-family="Liberation Serif, Times New Roman, serif" font-weight="bold" fill="#000">
<g transform="translate(226.5,1344) scale(0.965,1)"><text x="0" y="0" text-anchor="middle" font-size="66" >0.0</text></g>
<g transform="translate(586.2,1344) scale(0.965,1)"><text x="0" y="0" text-anchor="middle" font-size="66" >0.2</text></g>
<g transform="translate(945.9,1344) scale(0.965,1)"><text x="0" y="0" text-anchor="middle" font-size="66" >0.4</text></g>
<g transform="translate(1305.6,1344) scale(0.965,1)"><text x="0" y="0" text-anchor="middle" font-size="66" >0.6</text></g>
<g transform="translate(1665.3,1344) scale(0.965,1)"><text x="0" y="0" text-anchor="middle" font-size="66" >0.8</text></g>
<g transform="translate(186.5,1113.9) scale(0.965,1)"><text x="0" y="0" text-anchor="end" font-size="66" >0</text></g>
<g transform="translate(186.5,808.3) scale(0.965,1)"><text x="0" y="0" text-anchor="end" font-size="66" >4</text></g>
<g transform="translate(186.5,502.7) scale(0.965,1)"><text x="0" y="0" text-anchor="end" font-size="66" >8</text></g>
<g transform="translate(186.5,197.1) scale(0.965,1)"><text x="0" y="0" text-anchor="end" font-size="66" >12</text></g>
<g transform="translate(1034.7,1457) scale(0.98,1)"><text x="0" y="0" text-anchor="middle" font-size="66" >Voltage (V)</text></g>
<g transform="translate(77.5,1129) rotate(-90) scale(1.008,1)"><text x="0" y="0" font-size="66">Photocurrent density (mAcm<tspan font-size="40" dy="-35">-2</tspan><tspan dy="35">)</tspan></text></g>
</g>
<path d="M555,526 H696.5" stroke="#000000" stroke-width="10" stroke-linecap="round"/><rect x="619.5" y="520" width="12" height="12" fill="#fff" stroke="#666" stroke-width="2"/>
<path d="M555,630.4 H696.5" stroke="#d41020" stroke-width="10" stroke-linecap="round"/><circle cx="626" cy="630.4" r="5.5" fill="#fff" stroke="#f0b0b0" stroke-width="2"/>
<path d="M555,734.8 H696.5" stroke="#1010c8" stroke-width="10" stroke-linecap="round"/><path d="M626,727.8L633,740.8L619,740.8Z" fill="#fff" stroke="#9a9ae8" stroke-width="2" stroke-linejoin="miter"/>
<g font-family="Liberation Serif, Times New Roman, serif" font-weight="bold" fill="#000">
<g transform="translate(713.4,547.5) scale(0.965,1)"><text x="0" y="0" text-anchor="start" font-size="66" >FTO/TiO<tspan font-size="38" dy="26">2</tspan></text></g>
<g transform="translate(713.4,651.5) scale(0.965,1)"><text x="0" y="0" text-anchor="start" font-size="66" >FTO/Ag-NPs/TiO<tspan font-size="38" dy="26">2</tspan></text></g>
<g transform="translate(713.4,756) scale(0.965,1)"><text x="0" y="0" text-anchor="start" font-size="66" >FTO/Au-NPs/TiO<tspan font-size="38" dy="26">2</tspan></text></g>
</g>
</svg>
</body></html>
